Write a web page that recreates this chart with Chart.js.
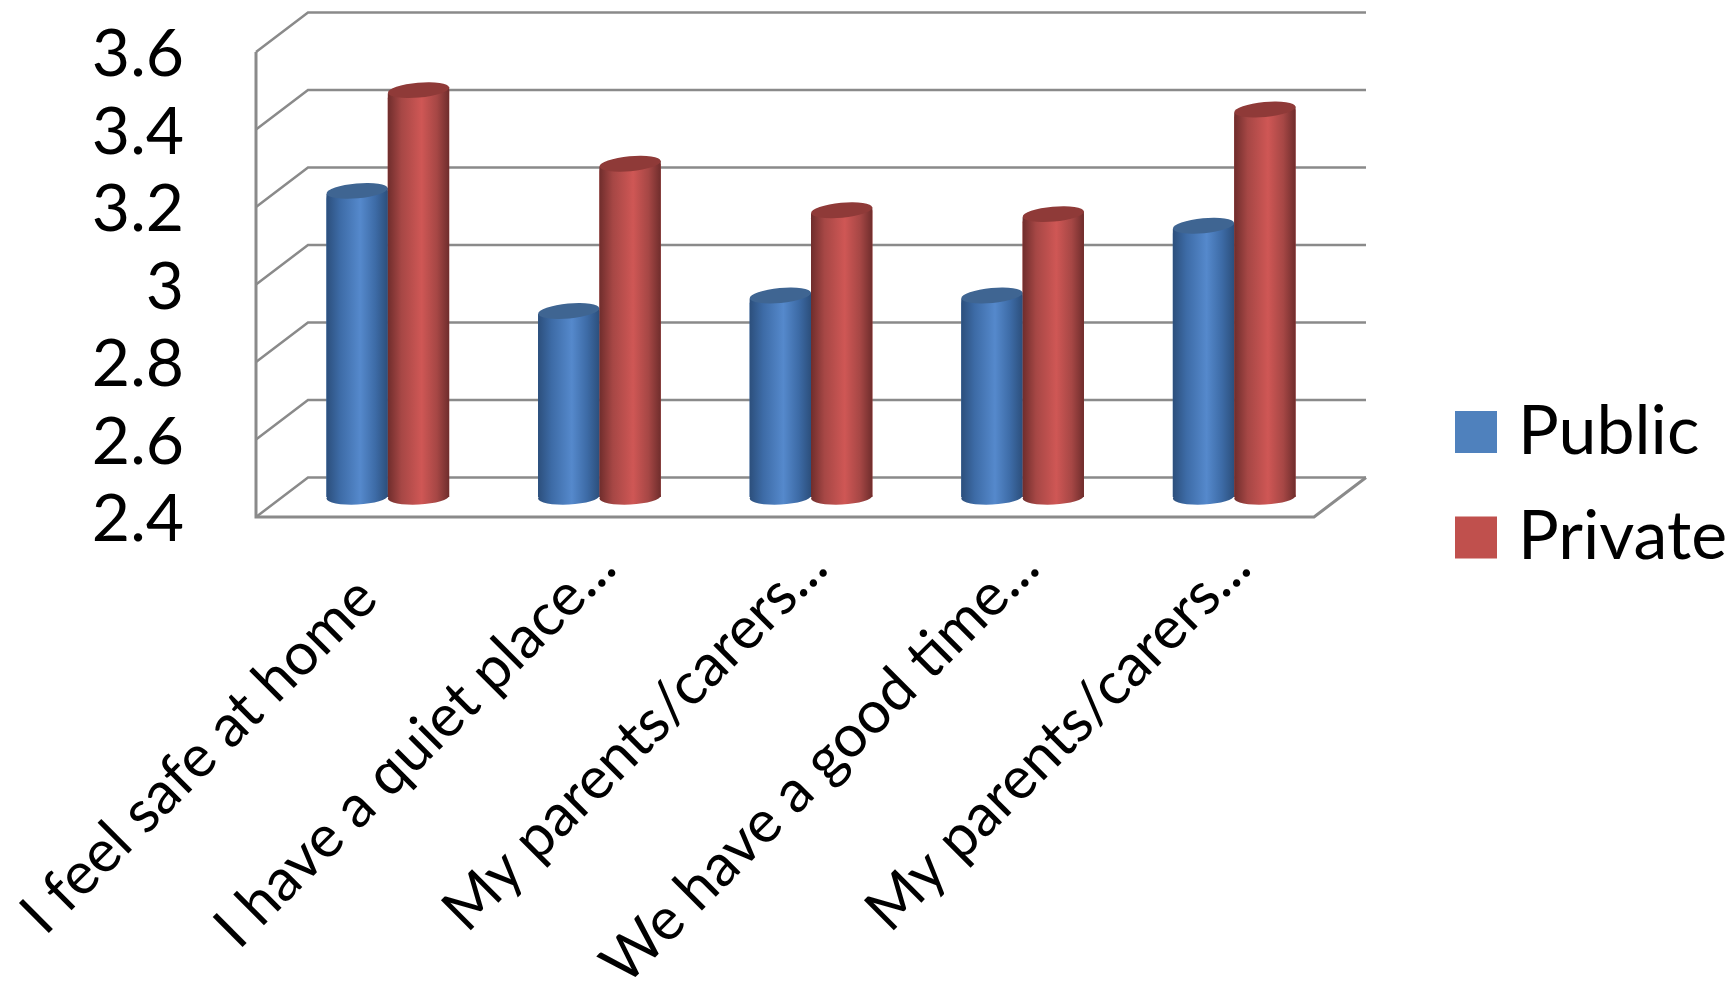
<!DOCTYPE html>
<html>
<head>
<meta charset="utf-8">
<title>Public vs Private</title>
<script src="https://cdn.jsdelivr.net/npm/chart.js@4"></script>
<style>
  html, body { margin: 0; padding: 0; background: #fff; }
  canvas { display: block; }
</style>
</head>
<body>
<canvas id="chart" width="1734" height="983"></canvas>
<script>
const categories = [
  'I feel safe at home',
  'I have a quiet place...',
  'My parents/carers...',
  'We have a good time...',
  'My parents/carers...',
];
const publicValues = [3.19, 2.88, 2.92, 2.92, 3.10];
const privateValues = [3.45, 3.26, 3.14, 3.13, 3.40];

const FONT = 'Lato, "Open Sans", sans-serif';
const DEPTH_X = 52, DEPTH_Y = 39.5;   // wall depth
const BAR_X = 26, BAR_Y = 20;         // bars stand mid-floor
const GRID = '#8a8a8a';

const shades = [
  { dark: '#2c4f7c', mid: '#3d6ba6', light: '#5589cc', cap: '#3f6592' },
  { dark: '#6f2d2c', mid: '#a64745', light: '#cf5755', cap: '#8f3a38' },
];

// grey walls, built from the value scale
const walls = {
  id: 'walls',
  beforeDatasetsDraw(chart) {
    const { ctx, chartArea: a, scales: { y } } = chart;
    ctx.save();
    ctx.strokeStyle = GRID;
    ctx.lineWidth = 2.5;
    ctx.lineJoin = 'miter';
    y.ticks.forEach((t) => {
      const py = y.getPixelForValue(t.value);
      ctx.beginPath();
      ctx.moveTo(a.left, py);
      ctx.lineTo(a.left + DEPTH_X, py - DEPTH_Y);
      ctx.lineTo(a.right + DEPTH_X, py - DEPTH_Y);
      ctx.stroke();
    });
    ctx.lineWidth = 3;
    ctx.beginPath();
    ctx.moveTo(a.left, a.top);
    ctx.lineTo(a.left, a.bottom);
    ctx.lineTo(a.right, a.bottom);
    ctx.lineTo(a.right + DEPTH_X, a.bottom - DEPTH_Y);
    ctx.stroke();
    ctx.restore();
  },
};

// paints each bar over as a cylinder
const cylinders = {
  id: 'cylinders',
  beforeDatasetsDraw(chart) {
    chart.ctx.save();
    chart.ctx.translate(BAR_X, -BAR_Y);
  },
  afterDatasetsDraw(chart) {
    const { ctx } = chart;
    chart.data.datasets.forEach((_, i) => {
      const s = shades[i];
      chart.getDatasetMeta(i).data.forEach((bar) => {
        const x0 = bar.x - bar.width / 2, x1 = bar.x + bar.width / 2;
        const rx = bar.width / 2, ry = 7.5;
        const g = ctx.createLinearGradient(x0, 0, x1, 0);
        g.addColorStop(0, s.dark);
        g.addColorStop(0.22, s.mid);
        g.addColorStop(0.55, s.light);
        g.addColorStop(0.8, s.mid);
        g.addColorStop(1, s.dark);
        ctx.fillStyle = g;
        ctx.beginPath();
        ctx.ellipse(bar.x, bar.base, rx, ry, -0.05, 0, Math.PI * 2);
        ctx.fill();
        ctx.beginPath();
        ctx.moveTo(x0, bar.y + 3);
        ctx.lineTo(x1, bar.y - 3);
        ctx.lineTo(x1, bar.base);
        ctx.lineTo(x0, bar.base);
        ctx.closePath();
        ctx.fill();
        ctx.fillStyle = s.cap;
        ctx.beginPath();
        ctx.ellipse(bar.x, bar.y, rx, ry, -0.09, 0, Math.PI * 2);
        ctx.fill();
      });
    });
    ctx.restore();
  },
};

// legend sits right of the plot, first label is set closer to its tick
const placeThings = {
  id: 'placeThings',
  afterLayout(chart) {
    const lg = chart.legend;
    const w = lg.width, h = lg.height;
    lg.left = 1430.5; lg.right = lg.left + w;
    lg.top = 360.5; lg.bottom = lg.top + h;
    const first = chart.scales.x.getLabelItems()[0];
    first.options.translation[0] -= 27;
    first.options.translation[1] += 31;
  },
};

function noScalePadding(scale) {
  scale.paddingTop = 0;
  scale.paddingBottom = 0;
  scale.paddingLeft = 0;
  scale.paddingRight = 0;
}

new Chart(document.getElementById('chart'), {
  type: 'bar',
  data: {
    labels: categories,
    datasets: [
      { label: 'Public', data: publicValues, base: 2.4, backgroundColor: '#4f81bd', clip: false, borderRadius: { topLeft: 8 } },
      { label: 'Private', data: privateValues, base: 2.4, backgroundColor: '#c0504d', clip: false, borderRadius: { topLeft: 8 } },
    ],
  },
  options: {
    responsive: false,
    animation: false,
    layout: { padding: { top: 52, right: 420, bottom: 0, left: 0 } },
    barPercentage: 1,
    categoryPercentage: 0.58,
    plugins: {
      tooltip: { enabled: false },
      legend: {
        position: 'chartArea',
        align: 'start',
        labels: {
          boxWidth: 16,
          boxHeight: 16,
          padding: 37.5,
          color: '#000',
          font: { family: FONT, size: 68 },
          // a thick border of the same colour widens the swatch without moving the text
          generateLabels(chart) {
            return Chart.defaults.plugins.legend.labels.generateLabels(chart).map((item) => ({
              ...item,
              strokeStyle: item.fillStyle,
              lineWidth: 26,
            }));
          },
        },
      },
    },
    scales: {
      x: {
        afterFit(scale) { scale.height = 466; noScalePadding(scale); },
        grid: { display: false, drawTicks: false },
        border: { display: false },
        ticks: {
          minRotation: 45,
          maxRotation: 45,
          autoSkip: false,
          padding: 15,
          labelOffset: 32,
          color: '#000',
          font: { family: FONT, size: 59 },
        },
      },
      y: {
        min: 2.4,
        max: 3.6,
        afterFit(scale) { scale.width = 256; noScalePadding(scale); },
        grid: { display: false, drawTicks: false },
        border: { display: false },
        ticks: {
          stepSize: 0.2,
          autoSkip: false,
          padding: 72,
          labelOffset: 3,
          color: '#000',
          font: { family: FONT, size: 66 },
          callback: (v) => String(Number(v.toFixed(1))),
        },
      },
    },
  },
  plugins: [walls, cylinders, placeThings],
});
</script>
</body>
</html>
